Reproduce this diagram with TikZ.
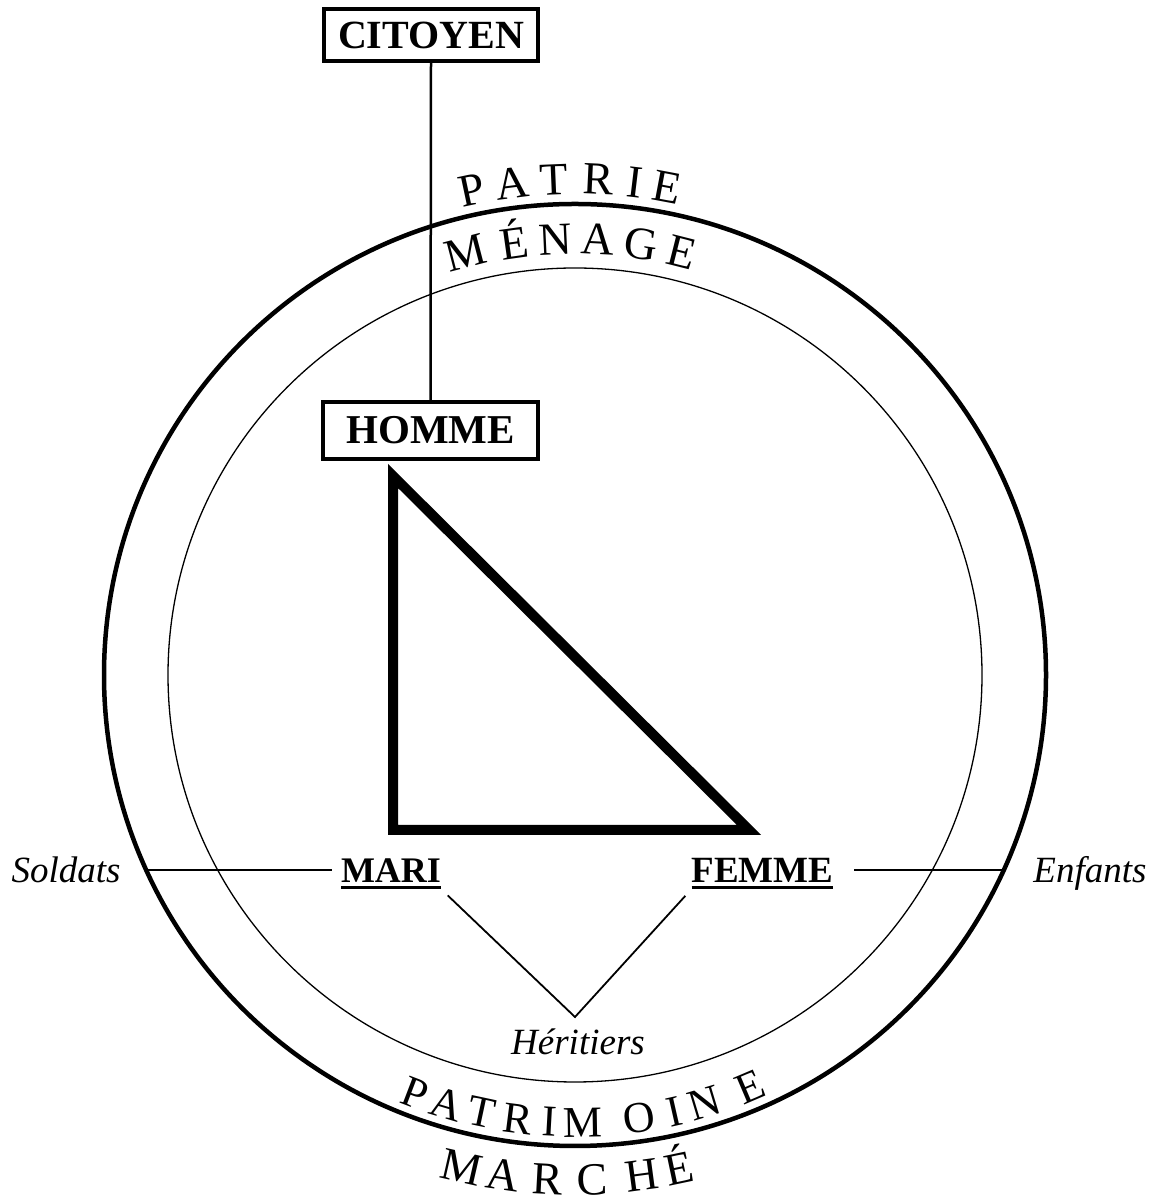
\documentclass[tikz,border=0pt]{standalone}
\usepackage{fontspec}
\setmainfont{Liberation Serif}
\newcommand\myul[1]{\vtop{\hbox{#1}\kern3pt\hrule height 3pt}}
\begin{document}
\begin{tikzpicture}[x=1pt,y=1pt,
  boxnode/.style={draw, line width=4pt, inner sep=0pt},
  boldlab/.style={inner sep=0pt, anchor=base, font=\fontsize{36}{38}\selectfont\bfseries},
  itallab/.style={inner sep=0pt, anchor=base, font=\fontsize{37}{40}\selectfont\itshape},
  arcletter/.style={inner sep=0pt, anchor=base, font=\fontsize{46}{48}\selectfont},
  arcsmall/.style={inner sep=0pt, anchor=base, font=\fontsize{44}{46}\selectfont},
  thinline/.style={line width=2pt}]
\useasboundingbox (0,0) rectangle (1159,1202);
\coordinate (C) at (575,527);
% circles
\draw[line width=4.5pt] (C) circle[radius=471];
\draw[line width=1.3pt] (C) circle[radius=407];
% triangle
\draw[line width=10pt, line join=miter] (393,726) -- (393,372) -- (749,372) -- cycle;
% boxes
\node[boxnode, minimum width=214pt, minimum height=52pt, font=\fontsize{40}{42}\selectfont\bfseries] (citoyen) at (431,1167) {CITOYEN};
\node[boxnode, minimum width=215pt, minimum height=57pt, font=\fontsize{41}{43}\selectfont\bfseries] (homme) at (430.5,771.5) {HOMME};
\draw[line width=2.5pt] (citoyen.south) -- (homme.north);
% labels
\node[boldlab] (mari) at (391,319) {\myul{MARI}};
\node[boldlab, font=\fontsize{37}{39}\selectfont\bfseries] (femme) at (762.5,319) {\myul{FEMME}};
\node[itallab] (soldats) at (66,319) {Soldats};
\node[itallab] (enfants) at (1090,319) {Enfants};
\node[itallab] (heritiers) at (578,147) {Héritiers};
% connectors
\coordinate (solend) at (146.5,332);
\coordinate (enfend) at (1003.5,332);
\coordinate (apex) at (575,185);
\draw[thinline, shorten >=9pt] (solend) -- (solend -| mari.west);
\draw[thinline, shorten >=20pt] (enfend) -- (enfend -| femme.east);
\draw[line width=1.8pt, shorten <=9pt, shorten >=9pt] (mari.south east) -- (apex) -- (femme.south west);
% arc texts
\foreach \l/\t [count=\i] in {P/102.0,A/97.3,T/92.4,R/87.3,I/83.1,E/79.3}
  \node[arcletter, rotate=\t-90] (patrie\i) at ([shift={(\t:481)}]C) {\l};
\foreach \l/\t [count=\i] in {M/104.6,É/98.0,N/92.6,A/87.0,G/81.3,E/75.8}
  \node[arcletter, rotate=\t-90] (menage\i) at ([shift={(\t:421)}]C) {\l};
\foreach \l/\t [count=\i] in {P/249.1,A/253.4,T/257.9,R/262.7,I/266.8,M/271.0,O/278.3,I/282.8,N/286.8,E/293.1}
  \node[arcsmall, rotate=\t-270] (patrimoine\i) at ([shift={(\t:462)}]C) {\l};
\foreach \l/\t [count=\i] in {M/257.1,A/261.8,R/266.9,C/272.0,H/277.6,É/281.9}
  \node[arcletter, rotate=\t-270] (marche\i) at ([shift={(\t:520)}]C) {\l};
\end{tikzpicture}
\end{document}
